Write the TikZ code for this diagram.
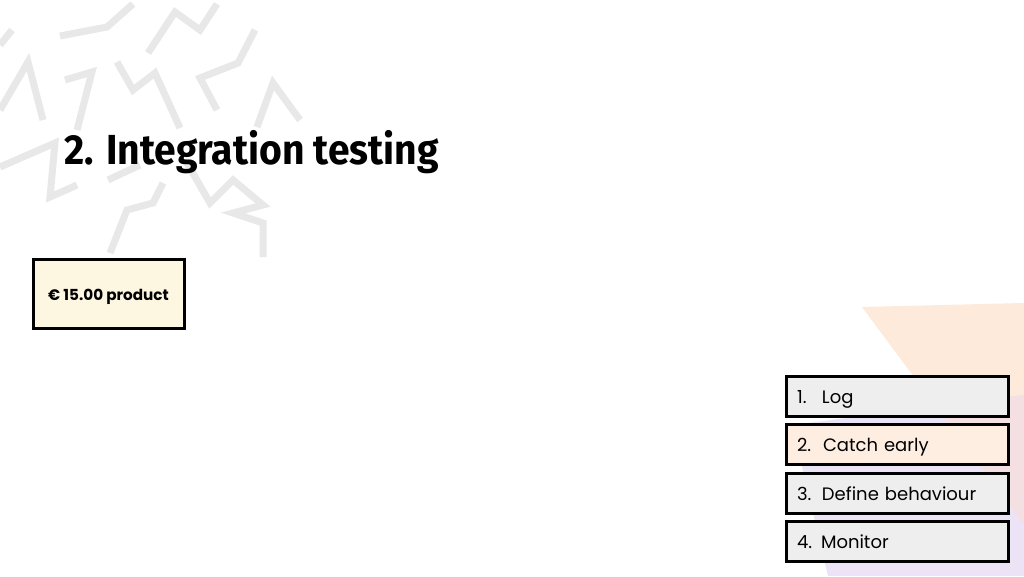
\documentclass[tikz,border=0pt]{standalone}
\usepackage{fontspec}
\setmainfont{Poppins}
\newfontfamily\titlefont{Fira Sans}
\usetikzlibrary{positioning}
\definecolor{zig}{HTML}{E8E8E8}
\definecolor{peach}{HTML}{FDEADB}
\definecolor{lav}{HTML}{ECE4F6}
\definecolor{pinkov}{HTML}{F4DFE3}
\definecolor{cream}{HTML}{FDF6E1}
\definecolor{boxgrey}{HTML}{EEEEEE}
\definecolor{boxpeach}{HTML}{FDEEE1}
\begin{document}
\begin{tikzpicture}[x=1pt,y=-1pt,
  zigline/.style={draw=zig,line width=7pt,line cap=butt,line join=miter},
  listbox/.style={draw=black,line width=3pt,fill=boxgrey,text width=200pt,align=left,
    minimum height=40pt,inner xsep=11pt,inner ysep=0pt,text height=16pt,text depth=2pt,
    font=\fontsize{18}{20}\selectfont},
  prodbox/.style={draw=black,line width=3pt,fill=cream,minimum width=151pt,minimum height=69pt,
    text height=15pt,text depth=2pt,font=\fontsize{15.2}{17}\selectfont\bfseries}]
\useasboundingbox (0,0) rectangle (1024,576);
\fill[white] (0,0) rectangle (1024,576);
% background zigzags
\draw[zigline] (60,36) -- (107,27) -- (133,4);
\draw[zigline] (148,53) -- (175,12) -- (200,30) -- (217,4);
\draw[zigline] (255,30) -- (238,63) -- (200,78) -- (217,110);
\draw[zigline] (117,62) -- (133,90) -- (155,73) -- (180,128);
\draw[zigline] (65,80) -- (92,72) -- (77,130);
\draw[zigline] (0,110) -- (28,62) -- (43,120);
\draw[zigline] (0,45) -- (12,30);
\draw[zigline] (300,120) -- (273,83) -- (257,127);
\draw[zigline] (0,167) -- (55,143) -- (50,197) -- (77,185);
\draw[zigline] (110,253) -- (127,210) -- (153,203) -- (163,183);
\draw[zigline] (108,180) -- (140,165);
\draw[zigline] (187,163) -- (210,203) -- (233,180) -- (263,205) -- (233,213) -- (263,223) -- (263,257);
% background triangles bottom right
\fill[peach] (862,307) -- (1024,303) -- (1024,525) -- cycle;
\fill[lav] (792,425) -- (1024,395) -- (1024,576) -- (828,576) -- cycle;
\begin{scope}
  \clip (862,307) -- (1024,303) -- (1024,525) -- cycle;
  \fill[pinkov] (792,425) -- (1024,395) -- (1024,576) -- (828,576) -- cycle;
\end{scope}
% title
\node[anchor=west,inner sep=0pt] (title) at (64,152)
  {\scalebox{0.93}[1]{\titlefont\fontsize{42}{46}\selectfont\bfseries 2. Integration testing}};
% product box
\node[prodbox] (prod) at (108.5,293.5) {€ 15.00 product};
% list boxes
\node[listbox] (b1) at (897,396) {\makebox[25pt][l]{1.}Log};
\node[listbox,fill=boxpeach] (b2) at (897,444.5) {\makebox[26pt][l]{2.}Catch early};
\node[listbox] (b3) at (897,493) {\makebox[25pt][l]{3.}Define behaviour};
\node[listbox] (b4) at (897,541) {\makebox[24pt][l]{4.}Monitor};
\end{tikzpicture}
\end{document}
